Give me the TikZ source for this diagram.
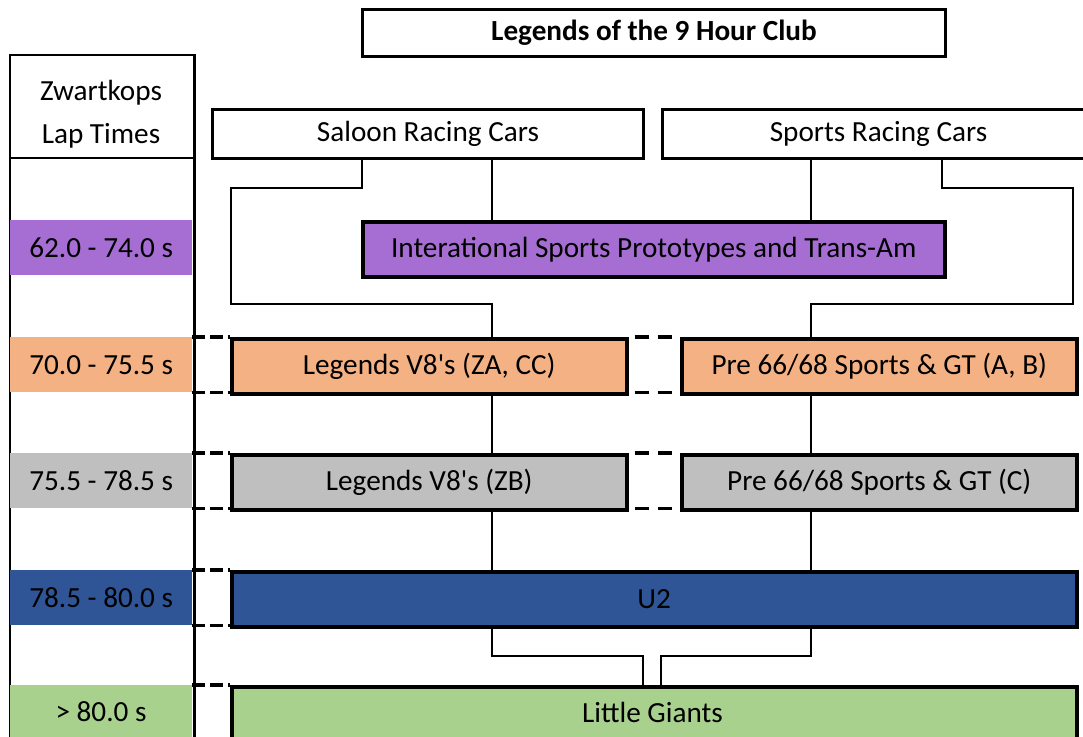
\documentclass[tikz,border=0pt]{standalone}
\usepackage{fontspec}
\setmainfont{Carlito}
\definecolor{cpurple}{HTML}{A66ED2}
\definecolor{corange}{HTML}{F4B183}
\definecolor{cgray}{HTML}{BFBFBF}
\definecolor{cblue}{HTML}{2F5597}
\definecolor{cgreen}{HTML}{A9D18E}
\begin{document}
\begin{tikzpicture}[x=1pt,y=-1pt,
  txt/.style={font=\fontsize{29.2}{35}\selectfont},
  box/.style={txt, draw, line width=3.5pt, anchor=north west, inner sep=0pt},
  hbox/.style={txt, draw, line width=3pt, anchor=north west, inner sep=0pt},
  band/.style={txt, anchor=north west, inner sep=0pt, minimum width=182pt, minimum height=55pt},
  conn/.style={line width=2pt},
  dsh/.style={line width=3.5pt, dash pattern=on 13pt off 5pt},
  dshr/.style={line width=3.5pt, dash pattern=on 14pt off 9pt, dash phase=17pt}]
\useasboundingbox (0,0) rectangle (1083,736);
\clip (0,0) rectangle (1083,736);

% left column
\node[draw, line width=2pt, anchor=north west, minimum width=184pt, minimum height=720pt, inner sep=0pt] (col) at (9,54) {};
\node[draw, line width=2pt, anchor=north west, minimum width=184pt, minimum height=103pt, inner sep=0pt] (hdr) at (9,54) {};
\node[txt, anchor=base] (hdr1) at (101,100) {Zwartkops};
\node[txt, anchor=base] (hdr2) at (101,143) {Lap Times};
\node[band, fill=cpurple] (b1) at (10,220) {62.0 - 74.0 s};
\node[band, fill=corange] (b2) at (10,337) {70.0 - 75.5 s};
\node[band, fill=cgray]   (b3) at (10,453) {75.5 - 78.5 s};
\node[band, fill=cblue]   (b4) at (10,570) {78.5 - 80.0 s};
\node[band, fill=cgreen, minimum height=70pt] (b5) at (10,685) {};
\node[txt] (b5t) at (101,712) {> 80.0 s};
\draw[line width=2pt] (col.north east) -- (col.south east);

% header boxes
\node[hbox, minimum width=583pt, minimum height=47pt] (title) at (361,8) {\textbf{Legends of the 9 Hour Club}};
\node[hbox, minimum width=431pt, minimum height=49pt] (saloon) at (211,108) {Saloon Racing Cars};
\node[hbox, minimum width=432pt, minimum height=49pt] (sports) at (661,108) {Sports Racing Cars};

% class boxes
\node[box, fill=cpurple, minimum width=582pt, minimum height=55pt] (proto) at (361,220) {Interational Sports Prototypes and Trans-Am};
\node[box, fill=corange, minimum width=395pt, minimum height=55pt] (legA) at (230,337) {Legends V8\textquotesingle s (ZA, CC)};
\node[box, fill=corange, minimum width=395pt, minimum height=55pt] (preA) at (680,337) {Pre 66/68 Sports \& GT (A, B)};
\node[box, fill=cgray, minimum width=395pt, minimum height=55pt] (legB) at (230,453) {Legends V8\textquotesingle s (ZB)};
\node[box, fill=cgray, minimum width=395pt, minimum height=55pt] (preC) at (680,453) {Pre 66/68 Sports \& GT (C)};
\node[box, fill=cblue, minimum width=845pt, minimum height=55pt] (u2) at (230,570) {U2};
\node[box, fill=cgreen, minimum width=845pt, minimum height=80pt] (lg) at (230,685) {};
\node[txt] (lgt) at (652.5,712) {Little Giants};

% connector columns and rows
\coordinate (xL) at (492,0);
\coordinate (xR) at (811,0);
\coordinate (xS) at (362,0);
\coordinate (xT) at (942,0);
\coordinate (xLL) at (231,0);
\coordinate (xRR) at (1073,0);
\coordinate (xGL) at (643,0);
\coordinate (xGR) at (661,0);
\coordinate (y1) at (0,188);
\coordinate (y2) at (0,304);
\coordinate (y3) at (0,656);

\draw[conn] (saloon.south -| xS) -- (xS |- y1) -- (xLL |- y1) -- (xLL |- y2) -- (xL |- y2) -- (legA.north -| xL);
\draw[conn] (saloon.south -| xL) -- (proto.north -| xL);
\draw[conn] (sports.south -| xR) -- (proto.north -| xR);
\draw[conn] (sports.south -| xT) -- (xT |- y1) -- (xRR |- y1) -- (xRR |- y2) -- (xR |- y2) -- (preA.north -| xR);
\draw[conn] (legA.south -| xL) -- (legB.north -| xL);
\draw[conn] (preA.south -| xR) -- (preC.north -| xR);
\draw[conn] (legB.south -| xL) -- (u2.north -| xL);
\draw[conn] (preC.south -| xR) -- (u2.north -| xR);
\draw[conn] (u2.south -| xL) -- (xL |- y3) -- (xGL |- y3) -- (lg.north -| xGL);
\draw[conn] (u2.south -| xR) -- (xR |- y3) -- (xGR |- y3) -- (lg.north -| xGR);

% dashed level guides
\draw[dsh] (b2.north east) -- (b2.north east -| legA.west);
\draw[dsh] (b2.south east) -- (b2.south east -| legA.west);
\draw[dsh] (b3.north east) -- (b3.north east -| legB.west);
\draw[dsh] (b3.south east) -- (b3.south east -| legB.west);
\draw[dsh] (b4.north east) -- (b4.north east -| u2.west);
\draw[dsh] (b4.south east) -- (b4.south east -| u2.west);
\draw[dsh] (b5.north east) -- (b5.north east -| lg.west);
\draw[dshr] (b2.north east -| legA.east) -- (b2.north east -| preA.west);
\draw[dshr] (b2.south east -| legA.east) -- (b2.south east -| preA.west);
\draw[dshr] (b3.north east -| legB.east) -- (b3.north east -| preC.west);
\draw[dshr] (b3.south east -| legB.east) -- (b3.south east -| preC.west);
\end{tikzpicture}
\end{document}
